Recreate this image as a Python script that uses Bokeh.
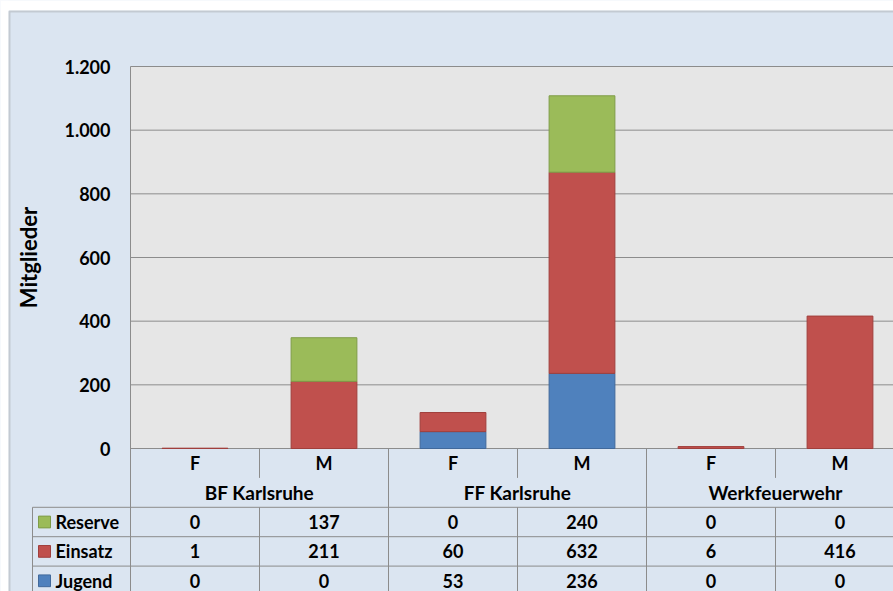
import math
from bokeh.plotting import figure
from bokeh.models import (Range1d, FixedTicker, BoxAnnotation, Label,
                          LinearAxis)
from bokeh.core.properties import value
from bokeh.embed import file_html
from bokeh.resources import INLINE

# ---------------- data ----------------
groups = ["BF Karlsruhe", "FF Karlsruhe", "Werkfeuerwehr"]
sexes = ["F", "M"]
series = ["Reserve", "Einsatz", "Jugend"]
reserve = [0, 137, 0, 240, 0, 0]
einsatz = [1, 211, 60, 632, 6, 416]
jugend = [0, 0, 53, 236, 0, 0]
yticks = [0, 200, 400, 600, 800, 1000, 1200]
ytick_labels = ["0", "200", "400", "600", "800", "1.000", "1.200"]
y_title = "Mitglieder"

# ---------------- style ----------------
BLUE_BG = "#dbe5f1"
PLOT_BG = "#e6e6e6"
GRID = "#8c8c8c"
FILL = {"Reserve": "#9bbb59", "Einsatz": "#c0504d", "Jugend": "#4f81bd"}
EDGE = {"Reserve": "#7f9c48", "Einsatz": "#a03f3c", "Jugend": "#41699b"}
FONT = value("Lato")
FS = "18px"

# ---------------- layout (page pixels) ----------------
W, H = 893, 591
X0 = 130            # px of category axis start (plot-area left)
ZERO_Y = 448        # px of value 0
TOP_Y = 66          # px of top tick
UNIT_X = 129        # px per category
ROW_H = 29.4        # px per table row
ppu = (ZERO_Y - TOP_Y) / yticks[-1]


def xd(px):
    return (px - X0) / UNIT_X


def yd(py):
    return (ZERO_Y - py) / ppu


def td(py):
    return (py - ZERO_Y) / ROW_H


n = len(reserve)
xs = [i + 0.5 for i in range(n)]
x_end = xd(W)

p = figure(width=W, height=H, output_backend="svg", toolbar_location=None,
           x_range=Range1d(xd(0), x_end),
           y_range=Range1d(yd(H), yd(0)),
           x_axis_type=None, y_axis_type=None, min_border=0,
           border_fill_color=BLUE_BG, background_fill_color=BLUE_BG,
           outline_line_color=None)
p.extra_y_ranges = {"table": Range1d(start=td(H), end=td(0))}

# white page margin + chart border
p.add_layout(BoxAnnotation(top=yd(-5), bottom=yd(10), fill_color="white",
                           fill_alpha=1, line_color=None, level="image"))
p.add_layout(BoxAnnotation(left=xd(-5), right=xd(8), fill_color="white",
                           fill_alpha=1, line_color=None, level="image"))
p.add_layout(BoxAnnotation(left=xd(9), right=xd(W + 50), top=yd(11),
                           bottom=yd(H + 50), fill_color=None,
                           line_color=GRID, line_width=2, level="image"))

# plot area background
p.add_layout(BoxAnnotation(left=0, bottom=0, top=yticks[-1], right=x_end + 1,
                           fill_color=PLOT_BG, fill_alpha=1, line_color=None,
                           level="image"))

# horizontal grid lines (only across the plot area)
p.segment(x0=[0] * len(yticks), x1=[x_end + 1] * len(yticks),
          y0=yticks, y1=yticks, line_color=GRID, line_width=1)

# y axis placed at the plot-area edge
ax = LinearAxis(fixed_location=0, bounds=(yd(H), yticks[-1]),
                ticker=FixedTicker(ticks=yticks),
                major_label_overrides={t: l for t, l in zip(yticks, ytick_labels)},
                major_tick_in=0, major_tick_out=0,
                minor_tick_in=0, minor_tick_out=0,
                axis_line_color=GRID, major_label_standoff=20,
                major_label_text_font="Lato",
                major_label_text_font_style="bold",
                major_label_text_font_size=FS,
                major_label_text_color="black")
p.add_layout(ax, "left")

# stacked bars (bottom to top: Jugend, Einsatz, Reserve); empty parts skipped
values = {"Reserve": reserve, "Einsatz": einsatz, "Jugend": jugend}
base = [0] * n
for s in ["Jugend", "Einsatz", "Reserve"]:
    v = values[s]
    idx = [i for i in range(n) if v[i] > 0]
    p.vbar(x=[xs[i] for i in idx], width=0.51,
           bottom=[base[i] for i in idx], top=[base[i] + v[i] for i in idx],
           fill_color=FILL[s], line_color=EDGE[s], line_width=1)
    base = [base[i] + v[i] for i in range(n)]

# ---------------- data table ----------------
n_rows = 2 + len(series)
for i in range(1, n + 1):
    if i % 2 == 0:
        p.segment(x0=[i], y0=[0], x1=[i], y1=[n_rows], y_range_name="table",
                  line_color=GRID, line_width=1)
    else:
        p.segment(x0=[i, i], y0=[0, 2], x1=[i, i], y1=[1, n_rows],
                  y_range_name="table", line_color=GRID, line_width=1)
p.segment(x0=[xd(32)], y0=[2], x1=[xd(32)], y1=[n_rows], y_range_name="table",
          line_color=GRID, line_width=1)
hy = list(range(2, n_rows + 1))
p.segment(x0=[xd(32)] * len(hy), y0=hy, x1=[n] * len(hy), y1=hy,
          y_range_name="table", line_color=GRID, line_width=1)

txt = dict(y_range_name="table", text_align="center", text_baseline="middle",
           text_font=FONT, text_font_style="bold", text_font_size=FS,
           text_color="black")
p.text(x=xs, y=[0.5] * n, text=[sexes[i % 2] for i in range(n)], **txt)
p.text(x=[2 * g + 1 for g in range(len(groups))], y=[1.5] * len(groups),
       text=groups, **dict(txt, text_font_size="19px"))
for r, s in enumerate(series):
    p.text(x=xs, y=[r + 2.5] * n, text=[str(v) for v in values[s]], **txt)

# legend keys + names
ky = [r + 2.5 for r in range(len(series))]
p.quad(left=[xd(38)] * len(series), right=[xd(50)] * len(series),
       top=[y - 0.2 for y in ky], bottom=[y + 0.2 for y in ky],
       y_range_name="table", fill_color=[FILL[s] for s in series],
       line_color=[EDGE[s] for s in series], line_width=1)
p.text(x=[xd(55)] * len(series), y=ky, text=series, y_range_name="table",
       text_align="left", text_baseline="middle", text_font=FONT,
       text_font_style="bold", text_font_size=FS, text_color="black")

# axis title
p.add_layout(Label(x=xd(28), y=yticks[-1] / 2, text=y_title, angle=math.pi / 2,
                   text_align="center", text_baseline="middle",
                   text_font="Lato", text_font_style="bold",
                   text_font_size="22px", text_color="black"))

open("out.html", "w").write(file_html(p, INLINE))
